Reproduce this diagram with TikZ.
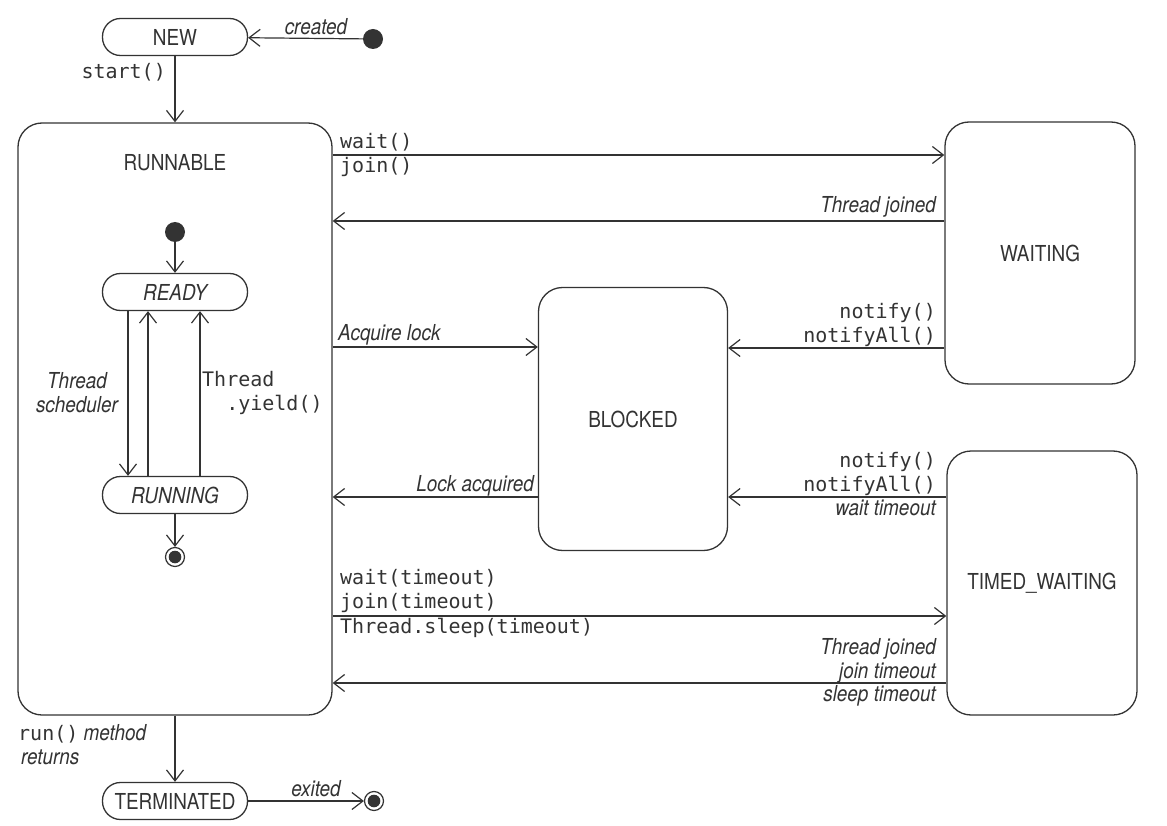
\documentclass[tikz,border=0pt]{standalone}
\usepackage{fontspec}
\setmainfont{TeX Gyre Heros}[FakeStretch=0.86]
\setmonofont{DejaVu Sans Mono}
\usetikzlibrary{arrows.meta}
\definecolor{ink}{HTML}{333333}
\tikzset{
  pill/.style={draw=ink, line width=1.3pt, rounded corners=18pt, minimum width=145pt, minimum height=37pt, inner sep=0pt},
  bigstate/.style={draw=ink, line width=1.3pt, rounded corners=24pt, inner sep=0pt},
  startdot/.style={circle, fill=ink, minimum size=20pt, inner sep=0pt},
  enddot/.style={circle, draw=ink, line width=1.2pt, minimum size=19pt, inner sep=0pt,
    path picture={\fill[ink] (path picture bounding box.center) circle (6.3pt);}},
  arr/.style={draw=ink, line width=1.2pt, -{Straight Barb[length=11pt,width=17pt]}},
  lbl/.style={inner sep=2pt, align=left},
  codelbl/.style={lbl, font=\fontsize{20}{24}\selectfont\ttfamily},
  notelbl/.style={lbl, font=\fontsize{22}{24}\selectfont\itshape},
}
\begin{document}
\begin{tikzpicture}[x=1pt, y=-1pt, every node/.style={text=ink, font=\fontsize{22}{24}\selectfont}]
  \useasboundingbox (0,0) rectangle (1167,826);
  % states
  \node[pill] (new) at (175,37) {NEW};
  \node[startdot] (newstart) at (373,39) {};
  \node[bigstate, minimum width=314pt, minimum height=592pt] (runnable) at (175,419) {};
  \node (runnabletitle) at (175,163) {RUNNABLE};
  \node[startdot] (innerstart) at (175,232) {};
  \node[pill, font=\fontsize{22}{24}\selectfont\itshape] (ready) at (175,292) {READY};
  \node[pill, font=\fontsize{22}{24}\selectfont\itshape] (running) at (175,495) {RUNNING};
  \node[enddot] (innerend) at (175,557) {};
  \node[bigstate, minimum width=190pt, minimum height=262pt] (waiting) at (1040,253) {WAITING};
  \node[bigstate, minimum width=189pt, minimum height=263pt] (blocked) at (633,419) {BLOCKED};
  \node[bigstate, minimum width=190pt, minimum height=264pt] (timed) at (1042,583) {TIMED\_WAITING};
  \node[pill] (terminated) at (175,801) {TERMINATED};
  \node[enddot] (exitend) at (374,801) {};

  % top and bottom
  \draw[arr] (newstart) -- (new);
  \node[notelbl] (createdlbl) at (316,27) {created};
  \draw[arr] (new) -- (runnable);
  \node[codelbl, anchor=east] (startlbl) at (168,72) {start()};
  \draw[arr] (runnable) -- (terminated);
  \node[lbl, anchor=north west] (runlbl) at (16,722) {{\fontsize{20}{24}\selectfont\ttfamily run()} \textit{method}\\\hspace*{3pt}\textit{returns}};
  \draw[arr] (terminated) -- (exitend);
  \node[notelbl] (exitedlbl) at (316,789) {exited};

  % inside RUNNABLE
  \draw[arr] (innerstart) -- (ready);
  \draw[arr] ([xshift=-47pt]ready.south) -- ([xshift=-47pt]running.north);
  \draw[arr] ([xshift=-27pt]running.north) -- ([xshift=-27pt]ready.south);
  \draw[arr] ([xshift=25pt]running.north) -- ([xshift=25pt]ready.south);
  \draw[arr] (running) -- (innerend);
  \node[notelbl, align=center] (schedlbl) at (77,393) {Thread\\scheduler};
  \node[codelbl, anchor=west] (yieldlbl) at (200,393) {Thread\\\phantom{Th}.yield()};

  % WAITING
  \draw[arr] (runnable.east |- 0,155) -- (waiting.west |- 0,155);
  \node[codelbl, anchor=west] (waitlbl) at (338,155) {wait()\\join()};
  \draw[arr] (waiting.west |- 0,221) -- (runnable.east |- 0,221);
  \node[notelbl, anchor=south east] (joinedw) at (938,219) {Thread joined};

  % BLOCKED
  \draw[arr] (runnable.east |- 0,347) -- (blocked.west |- 0,347);
  \node[notelbl, anchor=south west] (acquirelbl) at (336,347) {Acquire lock};
  \draw[arr] (waiting.west |- 0,348) -- (blocked.east |- 0,348);
  \node[codelbl, anchor=south east, align=right] (notifyw) at (938,349) {notify()\\notifyAll()};
  \draw[arr] (blocked.west |- 0,497) -- (runnable.east |- 0,497);
  \node[notelbl, anchor=south east] (acquiredlbl) at (536,498) {Lock acquired};
  \draw[arr] (timed.west |- 0,497) -- (blocked.east |- 0,497);
  \node[codelbl, anchor=south east, align=right] (notifyt) at (938,498) {notify()\\notifyAll()};
  \node[notelbl, anchor=north east] (waitout) at (938,498) {wait timeout};

  % TIMED_WAITING
  \draw[arr] (runnable.east |- 0,616) -- (timed.west |- 0,616);
  \node[codelbl, anchor=south west] (timedcalls) at (338,615) {wait(timeout)\\join(timeout)};
  \node[codelbl, anchor=north west] (sleepcall) at (338,616) {Thread.sleep(timeout)};
  \draw[arr] (timed.west |- 0,683) -- (runnable.east |- 0,683);
  \node[notelbl, anchor=south east, align=right] (joinedt) at (938,685) {Thread joined\\join timeout};
  \node[notelbl, anchor=north east] (sleepout) at (938,683) {sleep timeout};
\end{tikzpicture}
\end{document}
